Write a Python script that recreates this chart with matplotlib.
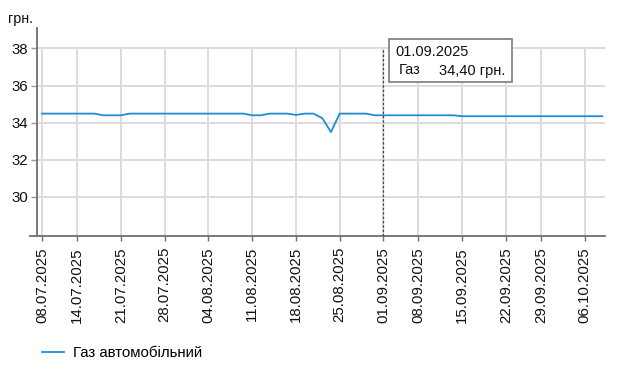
import matplotlib
matplotlib.use("Agg")
import matplotlib.pyplot as plt
from matplotlib.patches import Rectangle
from matplotlib.lines import Line2D

plt.rcParams['font.family'] = ['Liberation Sans', 'DejaVu Sans']

dates = [
    "08.07.2025", "09.07.2025", "10.07.2025", "11.07.2025", "14.07.2025", "15.07.2025",
    "16.07.2025", "17.07.2025", "18.07.2025", "21.07.2025", "22.07.2025", "23.07.2025",
    "24.07.2025", "25.07.2025", "28.07.2025", "29.07.2025", "30.07.2025", "31.07.2025",
    "01.08.2025", "04.08.2025", "05.08.2025", "06.08.2025", "07.08.2025", "08.08.2025",
    "11.08.2025", "12.08.2025", "13.08.2025", "14.08.2025", "15.08.2025", "18.08.2025",
    "19.08.2025", "20.08.2025", "21.08.2025", "22.08.2025", "25.08.2025", "26.08.2025",
    "27.08.2025", "28.08.2025", "29.08.2025", "01.09.2025", "02.09.2025", "03.09.2025",
    "04.09.2025", "08.09.2025", "09.09.2025", "10.09.2025", "11.09.2025", "12.09.2025",
    "15.09.2025", "16.09.2025", "17.09.2025", "18.09.2025", "19.09.2025", "22.09.2025",
    "23.09.2025", "24.09.2025", "25.09.2025", "29.09.2025", "30.09.2025", "01.10.2025",
    "02.10.2025", "03.10.2025", "06.10.2025", "07.10.2025", "08.10.2025",
]

gas_prices = [
    34.49, 34.49, 34.49, 34.49, 34.49, 34.49,
    34.49, 34.40, 34.40, 34.40, 34.49, 34.49,
    34.49, 34.49, 34.49, 34.49, 34.49, 34.49,
    34.49, 34.49, 34.49, 34.49, 34.49, 34.49,
    34.40, 34.40, 34.49, 34.49, 34.49, 34.42,
    34.49, 34.49, 34.25, 33.50, 34.49, 34.49,
    34.49, 34.49, 34.40, 34.40, 34.40, 34.40,
    34.40, 34.40, 34.40, 34.40, 34.40, 34.40,
    34.35, 34.35, 34.35, 34.35, 34.35, 34.35,
    34.35, 34.35, 34.35, 34.35, 34.35, 34.35,
    34.35, 34.35, 34.35, 34.35, 34.35,
]

tick_dates = [
    "08.07.2025", "14.07.2025", "21.07.2025", "28.07.2025", "04.08.2025",
    "11.08.2025", "18.08.2025", "25.08.2025", "01.09.2025", "08.09.2025",
    "15.09.2025", "22.09.2025", "29.09.2025", "06.10.2025",
]
y_ticks = [30, 32, 34, 36, 38]
series_name = "Газ автомобільний"
y_unit = "грн."
tooltip_date = "01.09.2025"
tooltip_label = "Газ"
tooltip_value = "34,40 грн."

W, H = 620, 377
fig = plt.figure(figsize=(W / 100, H / 100), dpi=100)
ax = fig.add_axes([37 / W, 1 - 236 / H, (605 - 37) / W, (236 - 28) / H])

x = list(range(len(dates)))
line_color = '#1f8dd6'
grid_color = '#dcdcdc'
axis_color = '#6e6e6e'
text_color = '#111111'
fs = 10.8

ax.set_ylim(27.9, 39.1)
ax.set_xlim(-0.57, 64.3)

tick_pos = [dates.index(d) for d in tick_dates]
# grid lines (only up to the top tick value)
for yv in y_ticks:
    ax.axhline(yv, color=grid_color, lw=1.4, zorder=0)
ax.vlines(tick_pos, 27.9, max(y_ticks), color=grid_color, lw=1.4, zorder=0)

ax.plot(x, gas_prices, color=line_color, lw=1.3, zorder=3, label=series_name)

# crosshair at tooltip date
tx = dates.index(tooltip_date)
ax.vlines([tx], 27.9, max(y_ticks), color='#444444', lw=0.9, linestyles=(0, (2, 1.5)), zorder=4)

ax.set_yticks(y_ticks)
ax.set_yticklabels([str(v) for v in y_ticks], fontsize=fs, color=text_color)
ax.set_xticks(tick_pos)
ax.set_xticklabels(tick_dates, rotation=90, fontsize=fs, color=text_color)
ax.tick_params(axis='y', length=4.5, width=1.0, color='#999999', pad=2)
ax.tick_params(axis='x', length=3.5, width=1.0, color=axis_color, pad=4.5)

for s in ['top', 'right']:
    ax.spines[s].set_visible(False)
for s in ['left', 'bottom']:
    ax.spines[s].set_color(axis_color)
    ax.spines[s].set_linewidth(1.3)
# small overhang of x axis to the left
ax.add_line(Line2D([-7 / (605 - 37), 0], [0, 0], transform=ax.transAxes,
                   color=axis_color, lw=1.3, clip_on=False))

fig.text(8 / W, 1 - 19 / H, y_unit, fontsize=10.3, va='center', ha='left', color=text_color)

# tooltip
fig.add_artist(Rectangle((389 / W, 1 - 82 / H), (512 - 389) / W, (82 - 39) / H,
                         transform=fig.transFigure, facecolor='white',
                         edgecolor='#7a7a7a', lw=1.2, zorder=10))
fig.text(395 / W, 1 - 52.5 / H, tooltip_date, fontsize=10.5, va='center', ha='left', zorder=11, color=text_color)
fig.text(399 / W, 1 - 70.5 / H, tooltip_label, fontsize=10.5, va='center', ha='left', zorder=11, color=text_color)
fig.text(439 / W, 1 - 70.5 / H, tooltip_value, fontsize=10.5, va='center', ha='left', zorder=11, color=text_color)

fig.legend(loc='center left', bbox_to_anchor=(36 / W, 1 - 353 / H), frameon=False,
           fontsize=fs, handlelength=1.47, handletextpad=0.58, borderaxespad=0)

fig.savefig('out.png', dpi=100)
